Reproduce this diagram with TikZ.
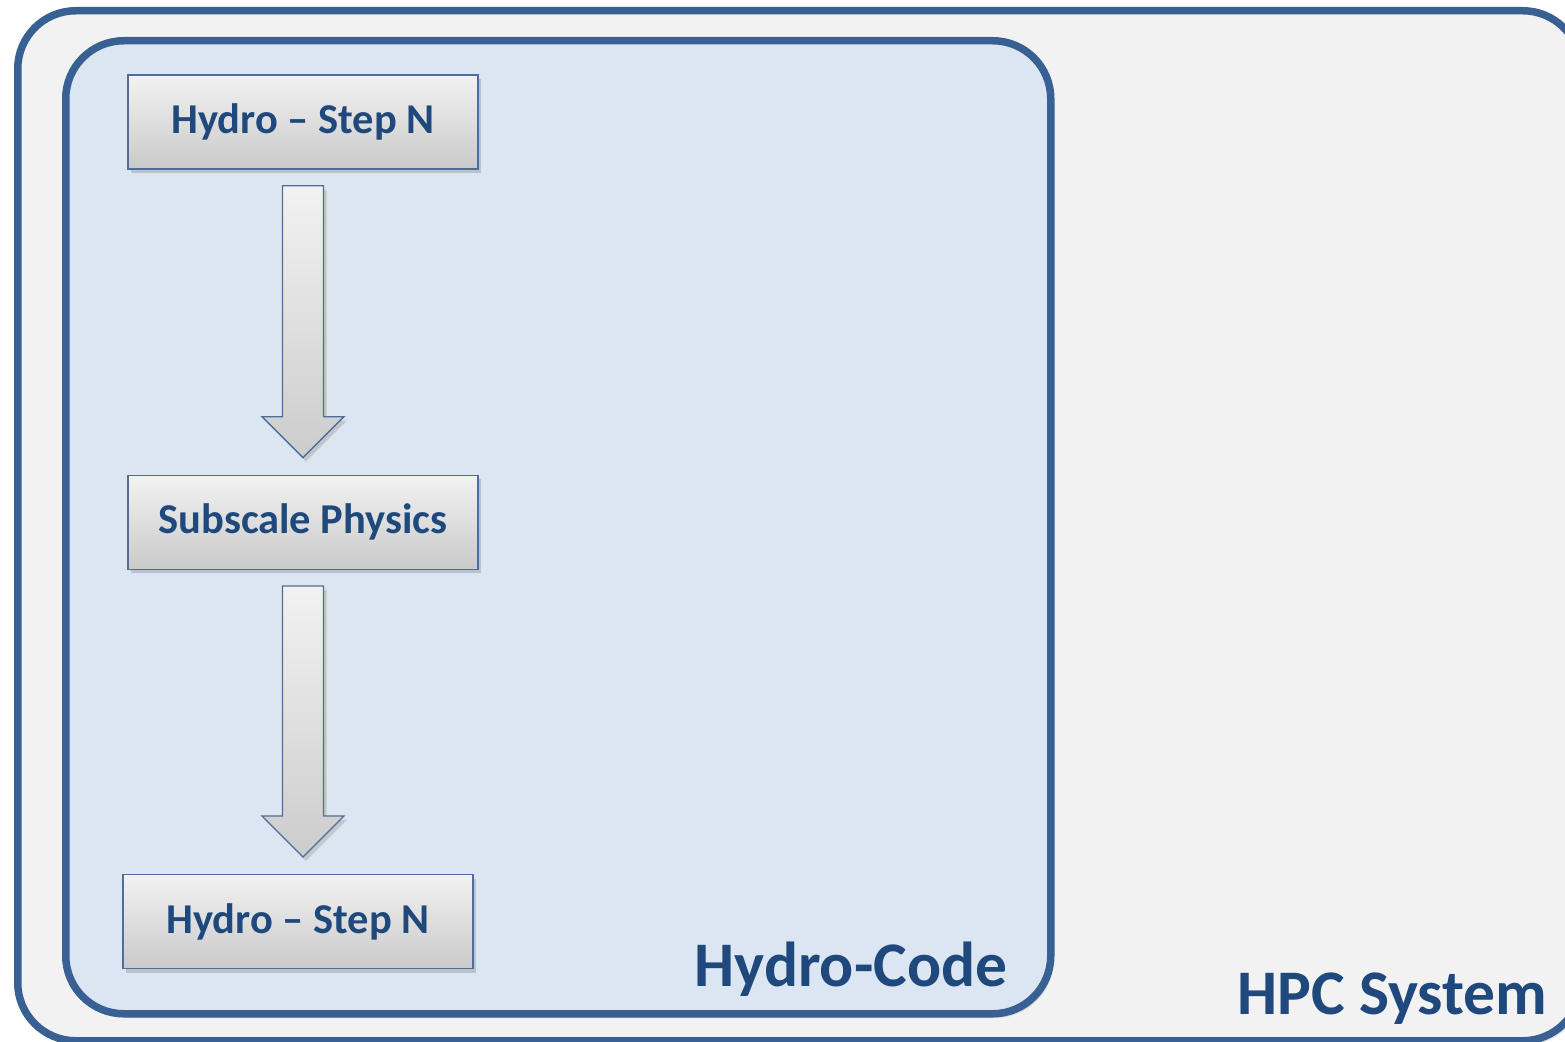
\documentclass[tikz,border=0pt]{standalone}
\usepackage{fontspec}
\setmainfont{Carlito}
\usepackage{tikz}
\usetikzlibrary{positioning, calc, shadows}
\pgfdeclarelayer{background}
\pgfsetlayers{background,main}
\definecolor{frameblue}{RGB}{56,96,146}
\definecolor{textblue}{RGB}{31,73,125}
\definecolor{hpcgray}{RGB}{242,242,242}
\definecolor{codeblue}{RGB}{220,230,242}
\definecolor{boxedge}{RGB}{79,109,153}
\newcommand{\flowarrow}[2]{%
  \path[flowarrow] ($(#1.south)+(-20.5,16)$) -- ($(#1.south |- #2.north)+(-20.5,-58)$)
    -- ($(#1.south |- #2.north)+(-41,-58)$) -- ($(#1.south |- #2.north)+(0,-17)$)
    -- ($(#1.south |- #2.north)+(41,-58)$) -- ($(#1.south |- #2.north)+(20.5,-58)$)
    -- ($(#1.south)+(20.5,16)$) -- cycle;
}
\tikzset{
    container/.style={draw=frameblue, line width=7.5pt, rounded corners=58pt,
      anchor=north west, inner sep=0pt,
      drop shadow={opacity=0.25, shadow xshift=3pt, shadow yshift=-4pt}},
    stepbox/.style={draw=boxedge, line width=1.3pt, top color=hpcgray, bottom color=black!21,
      minimum width=350pt, minimum height=94pt, inner sep=0pt,
      font=\fontsize{42.5}{48}\selectfont\bfseries, text=textblue,
      drop shadow={opacity=0.35, shadow xshift=3pt, shadow yshift=-4pt}},
    flowarrow/.style={draw=boxedge, line width=1.3pt, top color=hpcgray, bottom color=black!20,
      drop shadow={opacity=0.3, shadow xshift=3pt, shadow yshift=-4pt}},
    title/.style={anchor=base east, inner sep=0pt, text=textblue,
      font=\fontsize{63.5}{70}\selectfont\bfseries},
}
\begin{document}
\begin{tikzpicture}[x=1pt, y=-1pt]
    \useasboundingbox (0,0) rectangle (1565,1041);
    \clip (0,0) rectangle (1565,1041);

    \begin{pgfonlayer}{background}
      \node[container, fill=hpcgray, minimum width=1563pt, minimum height=1030pt] (hpc) at (14,7) {};
      \node[container, fill=codeblue, minimum width=985pt, minimum height=973pt] (code) at (62,37) {};
    \end{pgfonlayer}

    \node[stepbox] (hydroA) at (303,122) {Hydro -- Step N};
    \node[stepbox, below=305pt of hydroA] (subscale) {Subscale Physics};
    \node[stepbox, below=304pt of subscale, xshift=-5pt] (hydroB) {Hydro -- Step N};

    \flowarrow{hydroA}{subscale}
    \flowarrow{subscale}{hydroB}

    \node[title] (codelabel) at ($(code.south east)+(-47,-31)$) {Hydro-Code};
    \node[title] (hpclabel) at ($(hpc.south east)+(-37,-30)$) {HPC System};
\end{tikzpicture}
\end{document}
